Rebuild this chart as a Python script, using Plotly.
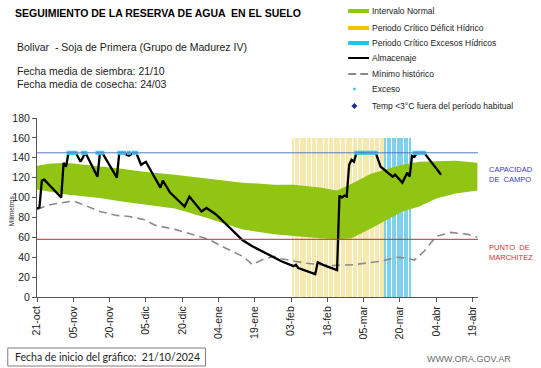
import plotly.graph_objects as go
import pandas as pd

START = pd.Timestamp("2024-10-21")

# Intervalo normal (days since start, upper / lower limits, mm)
band_days = [0, 5, 12, 20, 26, 35, 44, 57, 71, 85, 98, 106, 117, 124, 130, 138, 145, 151, 158, 165, 173, 182]
band_upper = [132, 134, 135, 133, 131, 129, 126, 123, 119, 115, 113, 113, 110, 107, 114, 124, 129, 133, 136, 136.5, 137, 135]
band_lower = [108, 106, 103, 101, 99.5, 96, 93, 89, 79, 68, 63, 61, 59, 58, 59, 69, 78, 86, 91, 99, 104, 107]

# Mínimo histórico
min_days = [0, 4, 8, 15, 20, 26, 33, 38, 44, 49, 57, 64, 71, 78, 85, 89, 93, 98, 101, 111, 121, 131, 142, 149, 153, 156, 160, 165, 171, 178, 182]
min_vals = [88, 92, 94, 96.5, 92, 86, 82, 81, 78, 72, 68, 63, 58, 49, 41, 32.5, 37.5, 41, 38.5, 34, 31.5, 32.5, 36, 40, 39, 37, 46, 61, 65, 63, 60]

# Almacenaje
alm_days = [0, 1, 2, 3, 10, 11, 12, 13, 16, 18, 20, 25, 26, 27, 33, 34, 36, 37, 38, 40, 41, 43, 45, 51, 52, 55, 61, 63, 68, 70, 74, 79, 85, 89, 93, 98, 101, 106, 107, 108, 115, 116, 119, 124, 125, 126, 127, 128, 129, 130, 131, 132, 140, 142, 145, 147, 148, 151, 153, 154, 155, 156, 157, 160, 167]
alm_vals = [89, 90, 117, 118, 100, 135, 131, 145, 145, 136, 145, 121, 145, 145, 120, 145, 145, 143, 142, 145, 145, 133, 136, 110, 117, 105, 91, 101, 86, 89.5, 83, 71, 57, 51, 46, 39, 36, 31, 32.5, 29, 23, 35, 31.5, 27, 102, 100, 102, 101, 133, 138, 136, 145, 145, 131, 125, 121, 123, 115, 125, 121, 142, 141, 145, 145, 123]

# Días con exceso
exceso_days = [13, 14, 15, 16, 19, 20, 25, 26, 27, 34, 35, 36, 38, 40, 41,
               132, 133, 134, 135, 136, 137, 138, 139, 140, 156, 157, 158, 159, 160]

# Períodos críticos
deficit_period = ("2025-02-04", "2025-03-13")
excess_period = ("2025-03-14", "2025-03-24")
stripe_top = 160

capacidad_campo = 145
punto_marchitez = 58

tick_dates = ["2024-10-21", "2024-11-05", "2024-11-20", "2024-12-05", "2024-12-20", "2025-01-04",
              "2025-01-19", "2025-02-03", "2025-02-18", "2025-03-05", "2025-03-20", "2025-04-04", "2025-04-19"]
tick_labels = ["21-oct", "05-nov", "20-nov", "05-dic", "20-dic", "04-ene", "19-ene",
               "03-feb", "18-feb", "05-mar", "20-mar", "04-abr", "19-abr"]
y_ticks = [0, 20, 40, 60, 80, 100, 120, 140, 160, 180]


def to_dates(days):
    return [START + pd.Timedelta(days=d) for d in days]


GREEN = "#90c514"
FONT = "Liberation Sans"

fig = go.Figure()

# green band
fig.add_trace(go.Scatter(x=to_dates(band_days), y=band_lower, mode="lines",
                         line=dict(width=0, color=GREEN), showlegend=False, hoverinfo="skip"))
fig.add_trace(go.Scatter(x=to_dates(band_days), y=band_upper, mode="lines", fill="tonexty",
                         fillcolor=GREEN, line=dict(width=0, color=GREEN), showlegend=False))

# critical period stripes
day_ms = 86400000
for (a, b), col, op, wd in [(deficit_period, "#f0dc7c", 0.6, 0.5), (excess_period, "#52c2e6", 0.75, 0.42)]:
    xs = pd.date_range(a, b, freq="D")
    fig.add_trace(go.Bar(x=xs, y=[stripe_top] * len(xs), width=[wd * day_ms] * len(xs),
                         marker=dict(color=col, line=dict(width=0)), opacity=op, showlegend=False))

# minimo historico
fig.add_trace(go.Scatter(x=to_dates(min_days), y=min_vals, mode="lines",
                         line=dict(color="#8a8a8a", width=1.6, dash="8px,5px"), showlegend=False))
# almacenaje
fig.add_trace(go.Scatter(x=to_dates(alm_days), y=alm_vals, mode="lines",
                         line=dict(color="black", width=2.3), showlegend=False))
# exceso
fig.add_trace(go.Scatter(x=to_dates(exceso_days), y=[capacidad_campo] * len(exceso_days), mode="markers",
                         marker=dict(symbol="square", size=4, color="#3cc8ea", line=dict(width=0)),
                         showlegend=False))

# plot area in pixels
L, R, T, B = 33, 478, 118, 297
W, H = 541, 368


def px(x):
    return (x - L) / (R - L)


def py(y):
    return (B - y) / (B - T)


shapes = [
    dict(type="line", xref="paper", yref="y", x0=0, x1=1, y0=capacidad_campo, y1=capacidad_campo,
         line=dict(color="#5577c4", width=1)),
    dict(type="line", xref="paper", yref="y", x0=0, x1=1, y0=punto_marchitez, y1=punto_marchitez,
         line=dict(color="#b03535", width=1)),
]

# manual legend
leg_x0, leg_x1 = 347, 368
leg_items = [
    ("Intervalo Normal", 11, dict(color=GREEN, width=4)),
    ("Periodo Crítico Déficit Hídrico", 28, dict(color="#f5c400", width=4)),
    ("Periodo Crítico Excesos Hídricos", 43, dict(color="#1fc3f0", width=4)),
    ("Almacenaje", 58, dict(color="black", width=2)),
    ("Mínimo histórico", 74, dict(color="#8a8a8a", width=2, dash="8px,4px")),
]
annotations = []
for txt, yy, ln in leg_items:
    shapes.append(dict(type="line", xref="paper", yref="paper", x0=px(leg_x0), x1=px(leg_x1),
                       y0=py(yy), y1=py(yy), line=ln))
    annotations.append(dict(text=txt, x=px(369), y=py(yy), xref="paper", yref="paper",
                            xanchor="left", yanchor="middle", showarrow=False,
                            font=dict(family=FONT, size=8.5, color="#222")))
# exceso dot
shapes.append(dict(type="circle", xref="paper", yref="paper", x0=px(351.8), x1=px(354.8),
                   y0=py(90.5), y1=py(87.5), fillcolor="#3cc8ea", line=dict(width=0)))
annotations.append(dict(text="Exceso", x=px(369), y=py(89), xref="paper", yref="paper",
                        xanchor="left", yanchor="middle", showarrow=False,
                        font=dict(family=FONT, size=8.5, color="#222")))
# temp diamond
cx, cy, s = 353.3, 106, 3
path = "M {} {} L {} {} L {} {} L {} {} Z".format(px(cx), py(cy - s), px(cx + s), py(cy),
                                                 px(cx), py(cy + s), px(cx - s), py(cy))
shapes.append(dict(type="path", xref="paper", yref="paper", path=path, fillcolor="#1a2a9a",
                   line=dict(width=0)))
annotations.append(dict(text="Temp <3°C fuera del período habitual", x=px(369), y=py(106),
                        xref="paper", yref="paper", xanchor="left", yanchor="middle", showarrow=False,
                        font=dict(family=FONT, size=8.5, color="#222")))

# header texts
annotations += [
    dict(text="<b>SEGUIMIENTO DE LA RESERVA DE AGUA  EN EL SUELO</b>", x=px(9), y=py(13),
         font=dict(family=FONT, size=10.5, color="black")),
    dict(text="Bolivar  - Soja de Primera (Grupo de Madurez IV)", x=px(11), y=py(47),
         font=dict(family=FONT, size=10.5, color="#222")),
    dict(text="Fecha media de siembra: 21/10", x=px(11), y=py(71.5),
         font=dict(family=FONT, size=10.5, color="#222")),
    dict(text="Fecha media de cosecha: 24/03", x=px(11), y=py(83.5),
         font=dict(family=FONT, size=10.5, color="#222")),
    dict(text="CAPACIDAD<br>DE  CAMPO", x=px(487), y=py(174),
         font=dict(family=FONT, size=7.5, color="#3b3bb0")),
    dict(text="PUNTO  DE<br>MARCHITEZ", x=px(487), y=py(252),
         font=dict(family=FONT, size=7.5, color="#cc3333")),
    dict(text="WWW.ORA.GOV.AR", x=px(425), y=py(359),
         font=dict(family=FONT, size=9, color="#6a6a6a")),
    dict(text="Fecha de inicio del gráfico:  21/10/2024", x=px(9), y=py(357),
         font=dict(family="Lato", size=10.5, color="#222")),
]
for a in annotations:
    a.setdefault("xref", "paper")
    a.setdefault("yref", "paper")
    a.setdefault("xanchor", "left")
    a.setdefault("yanchor", "middle")
    a.setdefault("showarrow", False)
    a["align"] = "left"

# y-axis title
annotations.append(dict(text="Milímetros", x=px(7), y=py(211), xref="paper", yref="paper",
                        textangle=-90, showarrow=False, xanchor="center", yanchor="middle",
                        font=dict(family=FONT, size=6.5, color="#222")))

# box for fecha inicio
shapes.append(dict(type="rect", xref="paper", yref="paper", x0=px(3.5), x1=px(203), y0=py(348),
                   y1=py(366), line=dict(color="#8c7878", width=1), fillcolor="rgba(0,0,0,0)"))

fig.update_layout(
    width=W, height=H,
    margin=dict(l=L, r=W - R, t=T, b=H - B, pad=0),
    paper_bgcolor="white", plot_bgcolor="white",
    barmode="overlay", bargap=0,
    showlegend=False,
    shapes=shapes, annotations=annotations,
    xaxis=dict(type="date", range=[START, START + pd.Timedelta(hours=182.25 * 24)],
               tickvals=pd.to_datetime(tick_dates), ticktext=tick_labels, tickangle=-90,
               ticks="outside", ticklen=4, tickcolor="#555", showline=True, linecolor="#555",
               linewidth=1, showgrid=False, zeroline=False,
               tickfont=dict(family=FONT, size=10.5, color="#222")),
    yaxis=dict(range=[0, 180], tickvals=y_ticks, ticks="outside", ticklen=4, tickcolor="#555",
               showline=True, linecolor="#555", linewidth=1, showgrid=False, zeroline=False,
               tickfont=dict(family=FONT, size=10.5, color="#222")),
    font=dict(family=FONT),
)

fig.write_html("out.html", config={"displayModeBar": False},
               post_script="document.body.style.margin='0';document.body.style.overflow='hidden';")
